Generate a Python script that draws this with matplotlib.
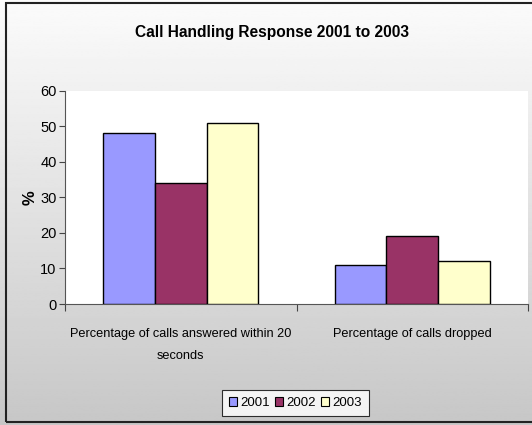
import numpy as np
import matplotlib.pyplot as plt
from matplotlib.patches import Rectangle, Patch

# Chart data
categories = ['Percentage of calls answered within 20\nseconds', 'Percentage of calls dropped']
years = ['2001', '2002', '2003']
values_2001 = [48, 11]
values_2002 = [34, 19]
values_2003 = [51, 12]
colors = ['#9999ff', '#993366', '#ffffcc']

plt.rcParams['font.family'] = ['Liberation Sans', 'DejaVu Sans']

fig = plt.figure(figsize=(5.32, 4.25), dpi=100)

# Gradient background for the chart area
bg = fig.add_axes([0, 0, 1, 1], zorder=-10)
grad = np.linspace(0.985, 0.78, 256).reshape(-1, 1)
bg.imshow(grad, aspect='auto', cmap='gray', vmin=0, vmax=1, extent=[0, 1, 0, 1])
bg.set_xlim(0, 1)
bg.set_ylim(0, 1)
bg.axis('off')

# Outer frame
fig.patches.append(Rectangle((6 / 532, 1 - 422 / 425), 1.2, (422 - 3) / 425,
                             transform=fig.transFigure, fill=False,
                             edgecolor='#222222', linewidth=1.5, zorder=5))

ax = fig.add_axes([65 / 532, 1 - 304 / 425, 463 / 532, (304 - 90.7) / 425])
ax.set_facecolor('white')

x = np.arange(len(categories))
w = 0.223
series = [values_2001, values_2002, values_2003]
for i, (vals, c) in enumerate(zip(series, colors)):
    ax.bar(x + (i - 1) * w, vals, width=w, color=c, edgecolor='black', linewidth=1.0, zorder=3)

ax.set_ylim(0, 60)
ax.set_xlim(-0.5, 1.5)
ax.set_yticks(range(0, 61, 10))
ax.tick_params(axis='y', labelsize=10.5, length=4, width=0.8, color='#444444', pad=2)

# Category boundaries get the tick marks, labels sit at the centers
ax.set_xticks([-0.5, 0.5, 1.5])
ax.set_xticklabels([])
ax.tick_params(axis='x', which='major', length=5, width=0.8, color='#444444')
ax.set_xticks(x, minor=True)
ax.set_xticklabels(categories, minor=True, fontsize=9.2, linespacing=2.1)
ax.tick_params(axis='x', which='minor', length=0, pad=17)

for s in ['top', 'right']:
    ax.spines[s].set_visible(False)
for s in ['left', 'bottom']:
    ax.spines[s].set_color('#555555')
    ax.spines[s].set_linewidth(0.8)

ax.set_ylabel('%', fontsize=12, fontweight='bold', labelpad=2)

fig.text(272 / 532, 1 - 32 / 425, 'Call Handling Response 2001 to 2003',
         ha='center', va='center', fontsize=11.2, fontweight='bold')

handles = [Patch(facecolor=c, edgecolor='black', linewidth=0.8) for c in colors]
leg = fig.legend(handles, years, loc='center', bbox_to_anchor=(295.5 / 532, 1 - 403 / 425),
                 ncol=3, fontsize=9.5, frameon=True, fancybox=False, shadow=False,
                 handlelength=0.6, handleheight=0.7, handletextpad=0.25, columnspacing=0.4,
                 borderpad=0.5)
leg.get_frame().set_edgecolor('black')
leg.get_frame().set_linewidth(0.8)

fig.savefig('out.png', dpi=100)
